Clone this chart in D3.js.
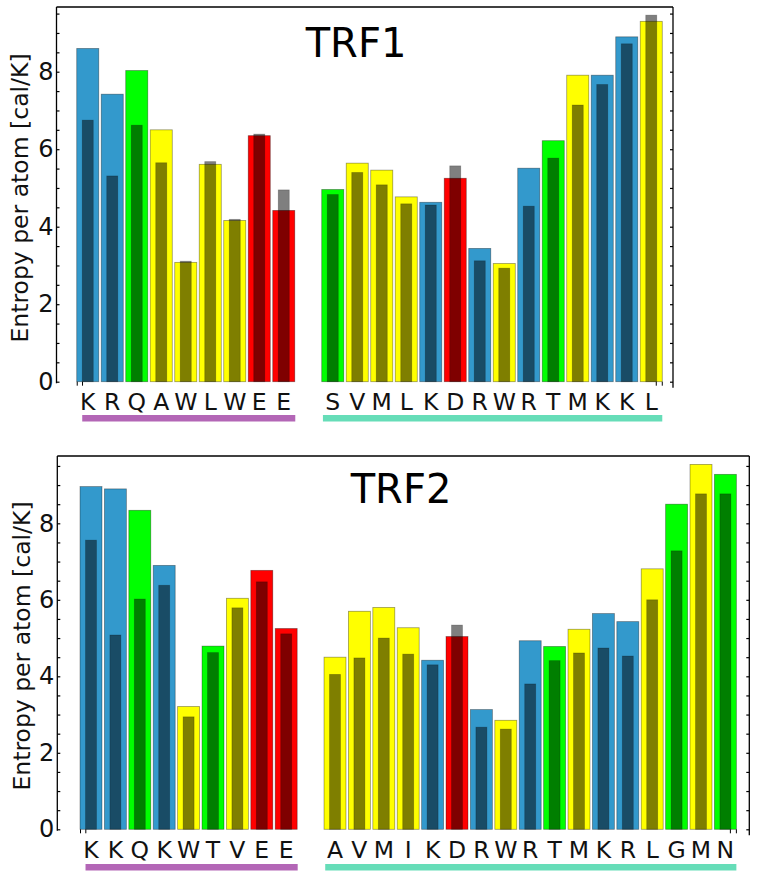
<!DOCTYPE html>
<html>
<head>
<meta charset="utf-8">
<script src="https://cdn.jsdelivr.net/npm/d3@7"></script>
<style>
  html, body { margin: 0; padding: 0; background: #ffffff; }
  svg { display: block; font-family: "DejaVu Sans", sans-serif; }
</style>
</head>
<body>
<svg id="chart" width="757" height="878"></svg>
<script>
// ---------------- DATA ----------------
// TRF1
const trf1GroupA = ["K","R","Q","A","W","L","W","E","E"];
const trf1GroupB = ["S","V","M","L","K","D","R","W","R","T","M","K","K","L"];
const trf1OuterA = [8.60, 7.42, 8.03, 6.50, 3.08, 5.61, 4.16, 6.35, 4.42];
const trf1InnerA = [6.75, 5.31, 6.62, 5.65, 3.11, 5.68, 4.19, 6.39, 4.95];
const trf1OuterB = [4.96, 5.64, 5.46, 4.77, 4.63, 5.25, 3.44, 3.05, 5.51, 6.22, 7.91, 7.91, 8.90, 9.30];
const trf1InnerB = [4.83, 5.40, 5.08, 4.59, 4.56, 5.57, 3.12, 2.93, 4.53, 5.77, 7.14, 7.67, 8.72, 9.46];

// TRF2
const trf2GroupA = ["K","K","Q","K","W","T","V","E","E"];
const trf2GroupB = ["A","V","M","I","K","D","R","W","R","T","M","K","R","L","G","M","N"];
const trf2OuterA = [8.96, 8.90, 8.34, 6.90, 3.21, 4.79, 6.04, 6.77, 5.25];
const trf2InnerA = [7.56, 5.08, 6.02, 6.38, 2.94, 4.62, 5.79, 6.47, 5.11];
const trf2OuterB = [4.50, 5.70, 5.80, 5.27, 4.42, 5.04, 3.13, 2.85, 4.93, 4.78, 5.23, 5.64, 5.43, 6.81, 8.50, 9.54, 9.28];
const trf2InnerB = [4.05, 4.48, 5.00, 4.58, 4.30, 5.34, 2.67, 2.62, 3.80, 4.41, 4.61, 4.74, 4.53, 6.00, 7.28, 8.77, 8.77];

const yTickLabels = [0, 2, 4, 6, 8];
const yAxisTitle = "Entropy per atom [cal/K]";

// residue classes -> colours
const residueClass = {
  K: "basic", R: "basic", H: "basic",
  D: "acidic", E: "acidic",
  Q: "polar", S: "polar", T: "polar", N: "polar", G: "polar", C: "polar", Y: "polar",
  A: "hydrophobic", W: "hydrophobic", L: "hydrophobic", V: "hydrophobic",
  M: "hydrophobic", I: "hydrophobic", F: "hydrophobic", P: "hydrophobic"
};
const classColor = { basic: "#3399cc", acidic: "#ff0000", polar: "#00ff00", hydrophobic: "#ffff00" };
const groupColors = ["#b366b6", "#66ddb8"];

// ---------------- LAYOUT ----------------
const panels = [
  {
    title: "TRF1", groupA: trf1GroupA, groupB: trf1GroupB,
    outerA: trf1OuterA, innerA: trf1InnerA, outerB: trf1OuterB, innerB: trf1InnerB,
    yMax: 9.67, yBottom: 381.7, yTop: 7,
    frameLeft: 56.5, frameRight: 673,
    bandStart: 75.5, step: 24.5,
    titleX: 356, titleY: 57,
    yTitleX: 28, yTitleY: 198,
    labelY: 410, lineY: 415, lineH: 6.5
  },
  {
    title: "TRF2", groupA: trf2GroupA, groupB: trf2GroupB,
    outerA: trf2OuterA, innerA: trf2InnerA, outerB: trf2OuterB, innerB: trf2InnerB,
    yMax: 9.76, yBottom: 829.3, yTop: 456,
    frameLeft: 57.3, frameRight: 749.3,
    bandStart: 78.8, step: 24.4,
    titleX: 401, titleY: 503,
    yTitleX: 30, yTitleY: 646,
    labelY: 858, lineY: 864, lineH: 6.5
  }
];

const svg = d3.select("#chart");

panels.forEach(p => {
  const g = svg.append("g");
  const nA = p.groupA.length, nB = p.groupB.length;
  const nSlots = nA + 1 + nB;

  const rows = [];
  p.groupA.forEach((r, i) => rows.push({ res: r, slot: i, outer: p.outerA[i], inner: p.innerA[i] }));
  p.groupB.forEach((r, i) => rows.push({ res: r, slot: nA + 1 + i, outer: p.outerB[i], inner: p.innerB[i] }));

  const x = d3.scaleBand()
    .domain(d3.range(nSlots))
    .range([p.bandStart, p.bandStart + nSlots * p.step])
    .paddingInner(0.1)
    .paddingOuter(0.05);
  const bw = x.bandwidth();

  const y = d3.scaleLinear().domain([0, p.yMax]).range([p.yBottom, p.yTop]);

  // outer bars
  g.selectAll("rect.outer").data(rows).join("rect")
    .attr("class", "outer")
    .attr("x", d => x(d.slot))
    .attr("width", bw)
    .attr("y", d => y(d.outer))
    .attr("height", d => y(0) - y(d.outer))
    .attr("fill", d => classColor[residueClass[d.res]])
    .attr("stroke", "rgba(0,0,0,0.4)")
    .attr("stroke-width", 0.8);

  // inner bars (semi-transparent black overlay)
  g.selectAll("rect.inner").data(rows).join("rect")
    .attr("class", "inner")
    .attr("x", d => x(d.slot) + bw / 4)
    .attr("width", bw / 2)
    .attr("y", d => y(d.inner))
    .attr("height", d => y(0) - y(d.inner))
    .attr("fill", "rgba(0,0,0,0.5)")
    .attr("stroke", "rgba(0,0,0,0.25)")
    .attr("stroke-width", 0.8);

  // frame: top, left, right lines
  g.append("line").attr("x1", p.frameLeft).attr("x2", p.frameRight)
    .attr("y1", p.yTop).attr("y2", p.yTop).attr("stroke", "#000").attr("stroke-width", 1.3);
  g.append("line").attr("x1", p.frameLeft).attr("x2", p.frameLeft)
    .attr("y1", p.yTop).attr("y2", y(0) + 1.5).attr("stroke", "#000").attr("stroke-width", 1.3);
  g.append("line").attr("x1", p.frameRight).attr("x2", p.frameRight)
    .attr("y1", p.yTop).attr("y2", y(0) + 6).attr("stroke", "#000").attr("stroke-width", 1.3);

  // minor ticks every 0.5 on both sides (inside)
  const minorTicks = d3.range(0, p.yMax, 0.5);
  const leftAxis = d3.axisRight(y).tickValues(minorTicks).tickSize(3).tickFormat("");
  const la = g.append("g").attr("transform", `translate(${p.frameLeft},0)`).call(leftAxis);
  la.select(".domain").remove();
  la.selectAll(".tick line").attr("stroke-width", 1.2);
  const rightAxis = d3.axisLeft(y).tickValues(minorTicks).tickSize(3).tickFormat("");
  const ra = g.append("g").attr("transform", `translate(${p.frameRight},0)`).call(rightAxis);
  ra.select(".domain").remove();
  ra.selectAll(".tick line").attr("stroke-width", 1.2);

  // y tick labels
  const labAxis = d3.axisLeft(y).tickValues(yTickLabels).tickSize(0).tickPadding(3).tickFormat(d3.format("d"));
  const lb = g.append("g").attr("transform", `translate(${p.frameLeft},0)`).call(labAxis);
  lb.select(".domain").remove();
  lb.selectAll(".tick text")
    .attr("font-family", "DejaVu Sans, sans-serif")
    .attr("font-size", 24)
    .attr("fill", "#111");

  // small x ticks at the ends of the bar row
  const firstX = x(0), lastX = x(nSlots - 1) + bw;
  [firstX + 0.5, firstX + 5.8, lastX - 6, lastX].forEach(tx => {
    g.append("line").attr("x1", tx).attr("x2", tx)
      .attr("y1", y(0)).attr("y2", y(0) + 4)
      .attr("stroke", "#000").attr("stroke-width", 1);
  });

  // x labels
  g.selectAll("text.res").data(rows).join("text")
    .attr("class", "res")
    .attr("x", d => x(d.slot) + bw / 2)
    .attr("y", p.labelY)
    .attr("text-anchor", "middle")
    .attr("font-size", 23.5)
    .attr("fill", "#111")
    .text(d => d.res);

  // group underlines
  const gA0 = x(0) + 5.5, gA1 = x(nA - 1) + bw + 0.5;
  const gB0 = x(nA + 1) + 1.2, gB1 = x(nSlots - 1) + bw;
  g.append("rect").attr("x", gA0).attr("width", gA1 - gA0)
    .attr("y", p.lineY).attr("height", p.lineH).attr("fill", groupColors[0]);
  g.append("rect").attr("x", gB0).attr("width", gB1 - gB0)
    .attr("y", p.lineY).attr("height", p.lineH).attr("fill", groupColors[1]);

  // title
  g.append("text")
    .attr("x", p.titleX).attr("y", p.titleY)
    .attr("text-anchor", "middle")
    .attr("font-size", 40)
    .attr("fill", "#000")
    .text(p.title);

  // y-axis title
  g.append("text")
    .attr("transform", `translate(${p.yTitleX},${p.yTitleY}) rotate(-90)`)
    .attr("text-anchor", "middle")
    .attr("font-size", 23.5)
    .attr("fill", "#111")
    .text(yAxisTitle);
});
</script>
</body>
</html>
